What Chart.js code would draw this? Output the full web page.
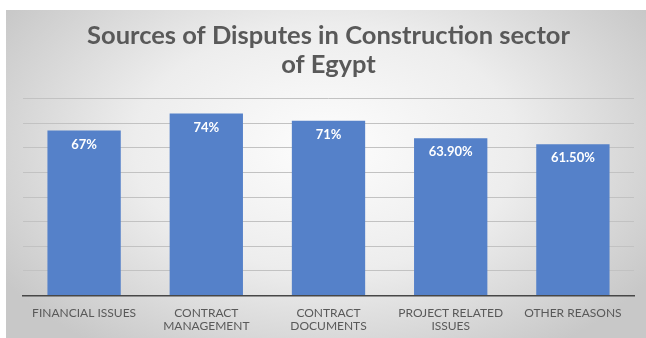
<!DOCTYPE html>
<html>
<head>
<meta charset="utf-8">
<script src="https://cdn.jsdelivr.net/npm/chart.js@4.4.1/dist/chart.umd.min.js"></script>
<style>
  html, body { margin: 0; padding: 0; background: #ffffff; }
  #bg { position: absolute; left: 6px; top: 10px; width: 640px; height: 328px;
        background: radial-gradient(ellipse 60% 75% at 50% 42%, #fdfdfd 0%, #ededed 50%, #c8c8c8 100%); }
  #wrap { position: absolute; left: 0; top: 0; width: 646px; height: 338px; }
</style>
</head>
<body>
<div id="bg"></div>
<div id="wrap"><canvas id="c" width="646" height="338"></canvas></div>
<script>
const titleLines = ['Sources of Disputes in Construction sector', 'of Egypt'];
const categories = [
  'FINANCIAL ISSUES',
  ['CONTRACT', 'MANAGEMENT'],
  ['CONTRACT', 'DOCUMENTS'],
  ['PROJECT RELATED', 'ISSUES'],
  'OTHER REASONS'
];
const values = [67, 74, 71, 63.9, 61.5];
const valueLabels = ['67%', '74%', '71%', '63.90%', '61.50%'];

const barLabelPlugin = {
  id: 'barLabels',
  afterDatasetsDraw(chart) {
    const ctx = chart.ctx;
    const meta = chart.getDatasetMeta(0);
    ctx.save();
    ctx.fillStyle = '#ffffff';
    ctx.font = 'bold 13px Lato, "Open Sans", sans-serif';
    ctx.textAlign = 'center';
    ctx.textBaseline = 'middle';
    meta.data.forEach((bar, i) => {
      ctx.fillText(valueLabels[i], bar.x, bar.y + 14);
    });
    ctx.restore();
  }
};

new Chart(document.getElementById('c'), {
  type: 'bar',
  data: {
    labels: categories,
    datasets: [{
      data: values,
      backgroundColor: '#5581C9',
      borderWidth: 0,
      barPercentage: 0.6,
      categoryPercentage: 1.0
    }]
  },
  options: {
    responsive: false,
    animation: false,
    events: [],
    layout: { padding: { left: 23, right: 12, top: 0, bottom: -6 } },
    plugins: {
      legend: { display: false },
      tooltip: { enabled: false },
      title: {
        display: true,
        text: titleLines,
        color: '#595959',
        font: { family: 'Lato, "Open Sans", sans-serif', size: 25.5, weight: 'bold', lineHeight: 1.11 },
        padding: { top: 22, bottom: 20 }
      }
    },
    scales: {
      x: {
        grid: { display: false, drawTicks: false },
        border: { display: true, color: '#474747', width: 1.5 },
        ticks: {
          color: '#595959',
          font: { family: 'Lato, "Open Sans", sans-serif', size: 12, lineHeight: 1.1 },
          padding: 11,
          maxRotation: 0,
          autoSkip: false
        }
      },
      y: {
        min: 0,
        max: 80,
        ticks: { display: false, stepSize: 10 },
        grid: { color: '#c2c2c2', lineWidth: 1, drawTicks: false },
        border: { display: false }
      }
    }
  },
  plugins: [barLabelPlugin]
});
</script>
</body>
</html>
